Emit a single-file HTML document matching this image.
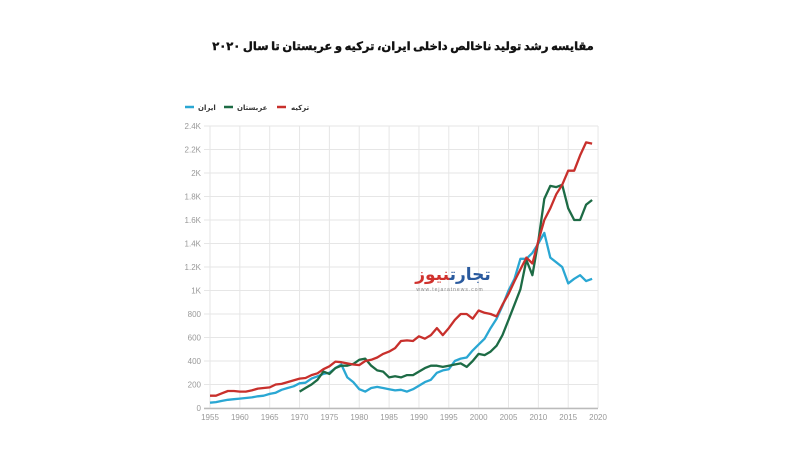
<!DOCTYPE html>
<html><head><meta charset="utf-8"><style>
body{margin:0;width:800px;height:458px;background:#fff;overflow:hidden;font-family:"Liberation Sans","Noto Sans CJK SC",sans-serif}
</style></head><body>
<svg width="800" height="458" xmlns="http://www.w3.org/2000/svg" id="s">
<text x="403" y="50" text-anchor="middle" font-family="'Noto Sans CJK SC','DejaVu Sans',sans-serif" font-weight="bold" font-size="11.5" stroke="#111" stroke-width="0.4" fill="#111">مقایسه رشد تولید ناخالص داخلی ایران، ترکیه و عربستان تا سال ۲۰۲۰</text>
<g font-family="'DejaVu Sans',sans-serif" font-size="7" font-weight="bold" fill="#333">
<line x1="185" y1="107" x2="194" y2="107" stroke="#2aa7d3" stroke-width="2.5"/><text x="198" y="110">ایران</text>
<line x1="224" y1="107" x2="233" y2="107" stroke="#1d6b45" stroke-width="2.5"/><text x="237" y="110">عربستان</text>
<line x1="277" y1="107" x2="286" y2="107" stroke="#c8302c" stroke-width="2.5"/><text x="291" y="110">ترکیه</text>
</g>
<g id="grid"></g>
<g id="lines"></g>
<text x="453" y="280" text-anchor="middle" font-family="'DejaVu Sans',sans-serif" font-weight="bold" font-size="17" fill="#2a5a9e">تجارت<tspan fill="#d0312d">نیوز</tspan></text>
<text x="450" y="291" text-anchor="middle" font-size="5" fill="#888" letter-spacing="1">www.tejaratnews.com</text>
</svg>
<script>
var X=y=>210+(y-1955)*5.97, Y=v=>408-v*0.1175;
var g='',i;
for(i=0;i<=12;i++){var yy=Y(i*200);g+='<line x1="204" x2="598" y1="'+yy+'" y2="'+yy+'" stroke="#e6e6e6"/>';
var l=i==0?'0':(i*200<1000?i*200:(i*0.2).toFixed(1)+'K');
if(i==5)l='1K';if(i==10)l='2K';
g+='<text x="201" y="'+(yy+3)+'" text-anchor="end" font-size="8" fill="#999">'+l+'</text>';}
for(var yr=1955;yr<=2020;yr+=5){var xx=X(yr);g+='<line x1="'+xx+'" x2="'+xx+'" y1="'+Y(2400)+'" y2="408" stroke="#e6e6e6"/><text x="'+xx+'" y="420" text-anchor="middle" font-size="8" fill="#999">'+yr+'</text>';}
g+='<line x1="204" x2="598" y1="408.5" y2="408.5" stroke="#bbb" stroke-width="1.5"/>';
document.getElementById('grid').innerHTML=g;
function P(start,arr,c){var p=arr.map((v,k)=>X(start+k).toFixed(1)+','+Y(v).toFixed(1)).join(' ');return '<polyline fill="none" stroke="'+c+'" stroke-width="2.3" stroke-linejoin="round" points="'+p+'"/>';}
var tr=[105,105,125,145,145,140,140,150,165,170,175,200,205,220,235,250,255,280,295,330,355,395,390,380,370,365,400,410,430,460,480,510,570,575,570,610,590,620,680,620,680,750,800,800,760,830,810,800,780,880,970,1080,1180,1280,1230,1420,1600,1700,1820,1900,2020,2020,2150,2260,2250];
var ir=[45,50,60,70,75,80,85,90,100,105,120,130,155,170,185,210,215,250,270,290,300,340,370,260,220,160,140,170,180,170,160,150,155,140,160,190,220,240,300,320,330,400,420,430,490,540,590,680,760,870,1000,1100,1270,1270,1320,1400,1490,1280,1240,1200,1060,1100,1130,1080,1100];
var sa=[140,170,200,240,310,290,340,360,360,375,410,420,360,320,310,260,270,260,280,280,310,340,360,360,350,360,370,380,350,400,460,450,480,530,620,750,880,1010,1260,1130,1420,1780,1890,1880,1900,1700,1600,1600,1730,1770];
document.getElementById('lines').innerHTML=P(1955,ir,'#2aa7d3')+P(1970,sa,'#1d6b45')+P(1955,tr,'#c8302c');
</script>
</body></html>
